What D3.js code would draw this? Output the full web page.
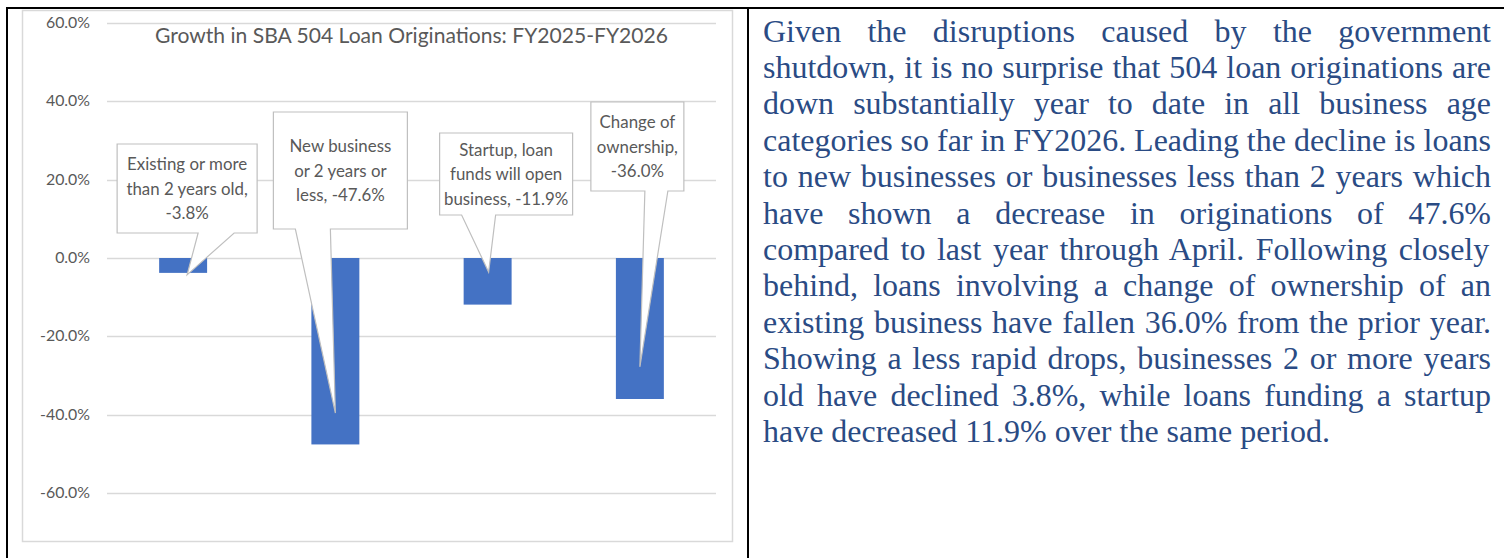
<!DOCTYPE html>
<html>
<head>
<meta charset="utf-8">
<script src="https://cdn.jsdelivr.net/npm/d3@7"></script>
<style>
  body { margin: 0; background: #fff; }
  svg { display: block; }
</style>
</head>
<body>
<svg id="page" width="1504" height="558"></svg>
<script>
// chart data
var categories = ["Existing or more than 2 years old", "New business or 2 years or less",
  "Startup, loan funds will open business", "Change of ownership"];
var growth = [-3.8, -47.6, -11.9, -36.0];
var yTicks = [60, 40, 20, 0, -20, -40, -60];
var titleText = "Growth in SBA 504 Loan Originations: FY2025-FY2026";

// data label callouts
var calloutLines = [
  ["Existing or more", "than 2 years old,", "-3.8%"],
  ["New business", "or 2 years or", "less, -47.6%"],
  ["Startup, loan", "funds will open", "business, -11.9%"],
  ["Change of", "ownership,", "-36.0%"]
];
var calloutTips = [-4.3, -39.6, -3.6, -27.8]; // where the pointer lands (%)

// commentary next to the chart
var paragraphLines = [
  "Given the disruptions caused by the government",
  "shutdown, it is no surprise that 504 loan originations are",
  "down substantially year to date in all business age",
  "categories so far in FY2026. Leading the decline is loans",
  "to new businesses or businesses less than 2 years which",
  "have shown a decrease in originations of 47.6%",
  "compared to last year through April. Following closely",
  "behind, loans involving a change of ownership of an",
  "existing business have fallen 36.0% from the prior year.",
  "Showing a less rapid drops, businesses 2 or more years",
  "old have declined 3.8%, while loans funding a startup",
  "have decreased 11.9% over the same period."
];

// callout box placement relative to each bar (pixels)
var calloutBoxes = [
  { dx: -66, top: 144, w: 140, h: 89, wedge: [81, 117], tipDx: 4 },
  { dx: -62, top: 112, w: 134, h: 117, wedge: [22, 57], tipDx: 0 },
  { dx: -48, top: 133, w: 133, h: 82, wedge: [22, 56], tipDx: 1 },
  { dx: -49, top: 102, w: 93, h: 89, wedge: [54, 77], tipDx: 0 }
];

var chartFont = "Lato";
var serifFont = "Liberation Serif";
var grey = "#595959";

var svg = d3.select("#page");
var ctx = document.createElement("canvas").getContext("2d");

// font size that makes a string reach a target width
function fitSize(str, family, target) {
  ctx.font = "100px \"" + family + "\"";
  return 100 * target / ctx.measureText(str).width;
}
function textWidth(str, family, size) {
  ctx.font = size + "px \"" + family + "\"";
  return ctx.measureText(str).width;
}

// page table borders
svg.append("rect").attr("x", 6).attr("y", 7).attr("width", 1498).attr("height", 2).attr("fill", "#000");
svg.append("rect").attr("x", 6).attr("y", 7).attr("width", 2).attr("height", 551).attr("fill", "#000");
svg.append("rect").attr("x", 747).attr("y", 7).attr("width", 2).attr("height", 551).attr("fill", "#000");

// chart frame
svg.append("rect")
  .attr("x", 22.5).attr("y", 10.5).attr("width", 710).attr("height", 531)
  .attr("fill", "#fff").attr("stroke", "#d9d9d9").attr("stroke-width", 1.5);

var plotLeft = 107, plotRight = 716;

var x = d3.scaleBand()
  .domain(categories)
  .range([plotLeft, plotRight])
  .paddingInner(0.685)
  .paddingOuter(0.3425);

var y = d3.scaleLinear()
  .domain([60, -60])
  .range([23, 493]);

// gridlines
svg.append("g")
  .selectAll("line")
  .data(yTicks)
  .enter()
  .append("line")
  .attr("x1", plotLeft).attr("x2", plotRight)
  .attr("y1", d => Math.round(y(d)) + 0.5)
  .attr("y2", d => Math.round(y(d)) + 0.5)
  .attr("stroke", "#d9d9d9")
  .attr("stroke-width", 1.3);

// tick labels
var tickSize = fitSize("-60.0%", chartFont, 50);
svg.append("g")
  .selectAll("text")
  .data(yTicks)
  .enter()
  .append("text")
  .attr("x", 90)
  .attr("y", d => y(d) + 5)
  .attr("text-anchor", "end")
  .attr("font-family", chartFont)
  .attr("font-size", tickSize)
  .attr("fill", grey)
  .text(d => d.toFixed(1) + "%");

// bars
svg.append("g")
  .selectAll("rect")
  .data(growth)
  .enter()
  .append("rect")
  .attr("x", (d, i) => x(categories[i]))
  .attr("width", x.bandwidth())
  .attr("y", d => y(Math.max(0, d)))
  .attr("height", d => Math.abs(y(d) - y(0)))
  .attr("fill", "#4472c4");

// title
svg.append("text")
  .attr("x", (plotLeft + plotRight) / 2)
  .attr("y", 43)
  .attr("text-anchor", "middle")
  .attr("font-family", chartFont)
  .attr("font-size", fitSize(titleText, chartFont, 514))
  .attr("fill", grey)
  .text(titleText);

// callouts
var calloutSize = fitSize("than 2 years old,", chartFont, 122);
var calloutGroup = svg.append("g");
growth.forEach(function(v, i) {
  var box = calloutBoxes[i];
  var cx = x(categories[i]) + x.bandwidth() / 2;
  var L = cx + box.dx, T = box.top, R = L + box.w, B = T + box.h;
  var tipX = cx + box.tipDx, tipY = y(calloutTips[i]);
  var a = L + box.wedge[0], b = L + box.wedge[1];
  var p = d3.path();
  p.moveTo(L, T);
  p.lineTo(R, T);
  p.lineTo(R, B);
  p.lineTo(b, B);
  p.lineTo(tipX, tipY);
  p.lineTo(a, B);
  p.lineTo(L, B);
  p.closePath();
  var g = calloutGroup.append("g");
  g.append("path")
    .attr("d", p.toString())
    .attr("fill", "#fff")
    .attr("stroke", "#bfbfbf")
    .attr("stroke-width", 1.2);
  var mid = T + box.h / 2 + 6;
  g.selectAll("text")
    .data(calloutLines[i])
    .enter()
    .append("text")
    .attr("x", L + box.w / 2)
    .attr("y", (d, j) => mid + (j - 1) * 24.5)
    .attr("text-anchor", "middle")
    .attr("font-family", chartFont)
    .attr("font-size", calloutSize)
    .attr("fill", grey)
    .text(d => d);
});

// commentary paragraph, justified
var textLeft = 763, lineWidth = 728;
var paraSize = fitSize(paragraphLines[paragraphLines.length - 1], serifFont, 567);
svg.append("g")
  .selectAll("text")
  .data(paragraphLines)
  .enter()
  .append("text")
  .attr("x", textLeft)
  .attr("y", (d, i) => 41.5 + i * 36.4)
  .attr("font-family", serifFont)
  .attr("font-size", paraSize)
  .attr("fill", "#2a4b84")
  .attr("word-spacing", function(d, i) {
    if (i === paragraphLines.length - 1) return 0;
    var w = textWidth(d, serifFont, paraSize);
    var gaps = d.split(" ").length - 1;
    return (lineWidth - w) / gaps;
  })
  .text(d => d);
</script>
</body>
</html>
